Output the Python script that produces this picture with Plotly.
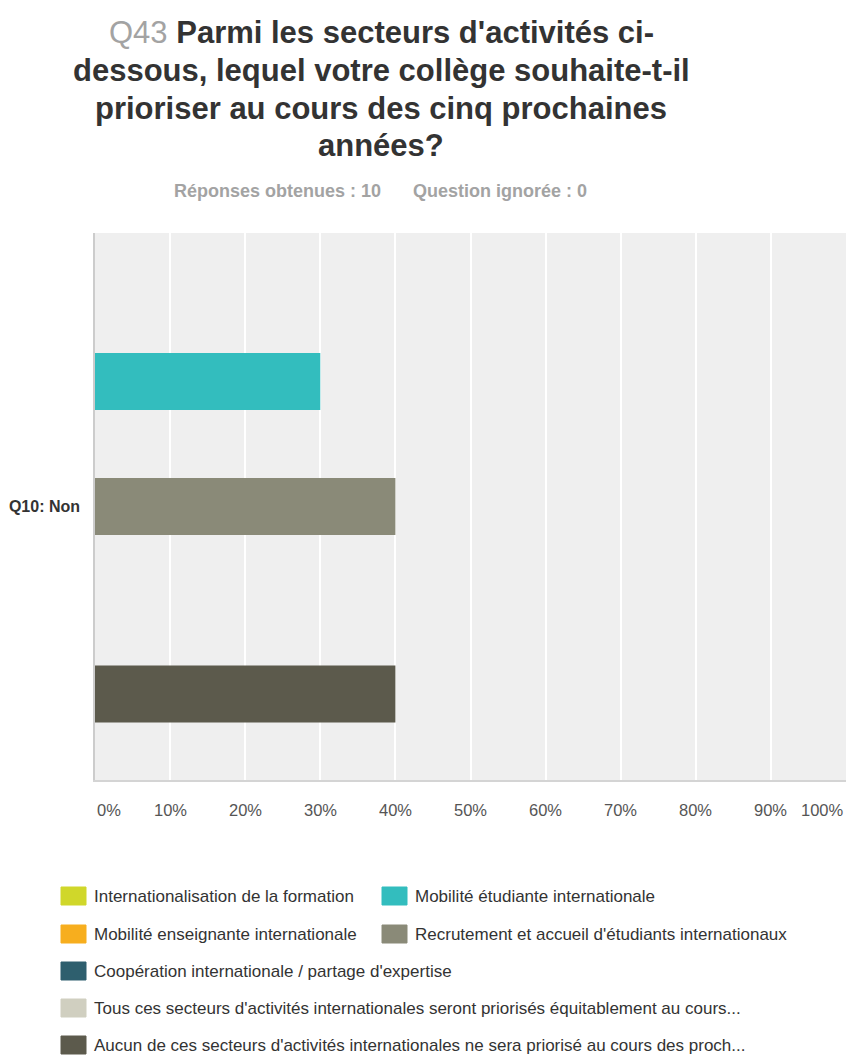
import plotly.graph_objects as go

# Survey answers for Q43, split by the respondents of "Q10: Non"
categories = ["Q10: Non"]
series_names = [
    "Internationalisation de la formation",
    "Mobilité étudiante internationale",
    "Mobilité enseignante internationale",
    "Recrutement et accueil d'étudiants internationaux",
    "Coopération internationale / partage d'expertise",
    "Tous ces secteurs d'activités internationales seront priorisés équitablement au cours...",
    "Aucun de ces secteurs d'activités internationales ne sera priorisé au cours des proch...",
]
series_values = [0.0, 0.30, 0.0, 0.40, 0.0, 0.0, 0.40]
series_colors = ["#d0d72a", "#33bdbe", "#f7ae1e", "#8a8a78", "#2e5f6e", "#d0cfc0", "#5c5a4c"]
tick_values = [0.0, 0.1, 0.2, 0.3, 0.4, 0.5, 0.6, 0.7, 0.8, 0.9, 1.0]
tick_labels = ["0%", "10%", "20%", "30%", "40%", "50%", "60%", "70%", "80%", "90%", "100%"]
title_lines = [
    "<span style='color:#a3a3a3;font-weight:normal'>Q43</span> Parmi les secteurs d'activités ci-",
    "dessous, lequel votre collège souhaite-t-il",
    "prioriser au cours des cinq prochaines",
    "années?",
]

W, H = 848, 1055
M_L, M_R, M_T, M_B = 95, 2, 233, 275
FONT = "Liberation Sans, Arial, Helvetica, sans-serif"

plot_w = W - M_L - M_R
plot_h = H - M_T - M_B


def px_x(x):
    return (x - M_L) / plot_w


def px_y(y):
    return (H - M_B - y) / plot_h


fig = go.Figure()
for name, val, col in zip(series_names, series_values, series_colors):
    fig.add_trace(go.Bar(
        y=categories,
        x=[val],
        name=name,
        orientation="h",
        marker=dict(color=col, line=dict(width=0)),
        showlegend=False,
        hovertemplate="%{x:.0%}<extra>" + name + "</extra>",
    ))

annotations = []

# title, one line per annotation for even line spacing
for i, line in enumerate(title_lines):
    annotations.append(dict(
        text=line, xref="paper", yref="paper",
        x=px_x(381), y=px_y(33 + i * 37.6), xanchor="center", yanchor="middle",
        showarrow=False, font=dict(family=FONT, size=31, color="#333333", weight="bold"),
    ))

# subtitle with the response counts
annotations.append(dict(
    text="Réponses obtenues : 10", xref="paper", yref="paper",
    x=px_x(383), y=px_y(191), xanchor="right", yanchor="middle",
    showarrow=False, font=dict(family=FONT, size=18, color="#a3a3a3", weight="bold"),
))
annotations.append(dict(
    text="Question ignorée : 0", xref="paper", yref="paper",
    x=px_x(411), y=px_y(191), xanchor="left", yanchor="middle",
    showarrow=False, font=dict(family=FONT, size=18, color="#a3a3a3", weight="bold"),
))

# percentage labels under the value axis, end labels kept inside the plot
for i, (tv, tl) in enumerate(zip(tick_values, tick_labels)):
    anchor = "left" if i == 0 else ("right" if i == len(tick_values) - 1 else "center")
    annotations.append(dict(
        text=tl, xref="x", yref="paper", x=tv, y=px_y(810),
        xanchor=anchor, yanchor="middle", showarrow=False,
        font=dict(family=FONT, size=16.5, color="#555555"),
    ))

# legend: two columns for the first four entries, then one per row
legend_slots = [(61, 896), (382, 896), (61, 934), (382, 934), (61, 971), (61, 1008), (61, 1045)]
shapes = []
for (lx, ly), name, col in zip(legend_slots, series_names, series_colors):
    x0, x1 = px_x(lx), px_x(lx + 25)
    y0, y1 = px_y(ly + 9), px_y(ly - 9)
    shapes.append(dict(
        type="rect", xref="paper", yref="paper", x0=x0, x1=x1, y0=y0, y1=y1,
        fillcolor=col, line=dict(width=1, color=col), layer="above",
    ))
    annotations.append(dict(
        text=name, xref="paper", yref="paper", x=px_x(lx + 31), y=px_y(ly),
        xanchor="left", yanchor="middle", showarrow=False,
        font=dict(family=FONT, size=17, color="#333333"),
    ))

fig.update_layout(
    width=W, height=H,
    margin=dict(l=M_L, r=M_R, t=M_T, b=M_B),
    paper_bgcolor="white",
    plot_bgcolor="#efefef",
    barmode="group",
    bargap=0.2,
    bargroupgap=0.09,
    xaxis=dict(
        range=[0, 1], tickvals=tick_values, showticklabels=False,
        showgrid=True, gridcolor="white", gridwidth=1.5,
        zeroline=False, showline=True, linecolor="#d4d4d4", linewidth=2,
        fixedrange=True,
    ),
    yaxis=dict(
        autorange="reversed", showgrid=False, zeroline=False,
        showline=True, linecolor="#cccccc", linewidth=1.5,
        ticks="", ticklabelstandoff=10,
        tickfont=dict(family=FONT, size=16, color="#333333", weight="bold"),
        fixedrange=True,
    ),
    shapes=shapes,
    annotations=annotations,
    showlegend=False,
)

fig.write_html("out.html")
